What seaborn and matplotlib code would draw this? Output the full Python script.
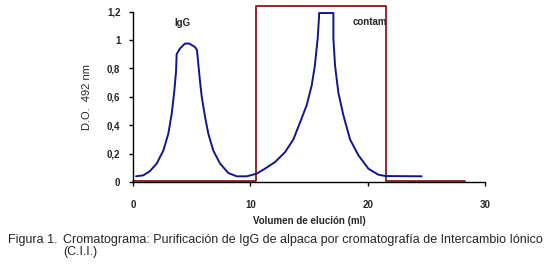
import matplotlib
matplotlib.use("Agg")
import matplotlib.pyplot as plt
import seaborn as sns
import pandas as pd

sns.set_style("white")
plt.rcParams['font.family'] = ['Liberation Sans', 'DejaVu Sans']

# Chromatogram curve (elution volume ml, OD 492 nm)
volume = [0.26, 0.88, 1.45, 2.02, 2.58, 3.01, 3.3, 3.52, 3.67, 3.72, 4.0, 4.43, 4.8, 5.29,
          5.45, 5.57, 5.71, 5.86, 6.14, 6.42, 6.85, 7.42, 8.13, 8.84, 9.7, 10.55,
          11.25, 12.1, 12.96, 13.67, 14.24, 14.8, 15.23, 15.5, 15.74, 15.86, 15.86,
          17.08, 17.08, 17.08, 17.22, 17.5, 17.93, 18.5, 19.2, 20.06, 20.9, 21.5, 24.6]
od = [0.04, 0.047, 0.077, 0.13, 0.22, 0.34, 0.48, 0.64, 0.78, 0.90, 0.94, 0.975, 0.975, 0.95,
      0.93, 0.83, 0.71, 0.60, 0.46, 0.34, 0.22, 0.13, 0.063, 0.04, 0.04, 0.059,
      0.094, 0.14, 0.21, 0.30, 0.42, 0.54, 0.68, 0.82, 1.01, 1.17, 1.19,
      1.19, 1.17, 1.01, 0.82, 0.63, 0.47, 0.30, 0.19, 0.094, 0.052, 0.042, 0.04]

# Fraction collection outline (red)
frac_x = [0, 10.5, 10.5, 21.55, 21.55, 28.3]
frac_y = [0.008, 0.008, 1.24, 1.24, 0.008, 0.008]

xticks = [0, 10, 20, 30]
yticks = [0, 0.2, 0.4, 0.6, 0.8, 1.0, 1.2]
ytick_labels = ["0", "0,2", "0,4", "0,6", "0,8", "1", "1,2"]

fig = plt.figure(figsize=(5.5, 2.64), dpi=100)
ax = fig.add_axes([0.2418, 0.3106, 0.64, 0.6454])

curve = pd.DataFrame({"vol": volume, "od": od})
frac = pd.DataFrame({"vol": frac_x, "od": frac_y})

sns.lineplot(data=frac, x="vol", y="od", sort=False, color="#8b1a1a", lw=1.3, ax=ax, estimator=None)
sns.lineplot(data=curve, x="vol", y="od", sort=False, color="#14148c", lw=1.4, ax=ax, estimator=None)
for ln in ax.lines:
    ln.set_clip_on(False)
    ln.set_solid_joinstyle("round")

ax.set_xlim(0, 30)
ax.set_ylim(0, 1.2)
ax.set_xticks(xticks)
ax.set_xticklabels([str(t) for t in xticks], fontsize=7, fontweight="bold")
ax.set_yticks(yticks)
ax.set_yticklabels(ytick_labels, fontsize=7, fontweight="bold")
ax.tick_params(axis="both", direction="out", length=3, width=1, color="black",
               bottom=True, left=True)
ax.tick_params(axis="x", pad=10)
ax.tick_params(axis="y", pad=6)
for s in ["top", "right"]:
    ax.spines[s].set_visible(False)
for s in ["left", "bottom"]:
    ax.spines[s].set_color("black")
    ax.spines[s].set_linewidth(1)

ax.set_xlabel("Volumen de elución (ml)", fontsize=7, fontweight="bold", labelpad=4)
ax.set_ylabel("D.O.  492 nm", fontsize=8, labelpad=11)

ax.text(4.2, 1.12, "IgG", fontsize=7, fontweight="bold", ha="center", va="center")
ax.text(18.7, 1.125, "contam", fontsize=7, fontweight="bold", ha="left", va="center")

fig.text(8 / 550, 1 - 239.5 / 264, "Figura 1.", fontsize=9, va="center", ha="left")
fig.text(63 / 550, 1 - 239.5 / 264,
         "Cromatograma: Purificación de IgG de alpaca por cromatografía de Intercambio Iónico",
         fontsize=9, va="center", ha="left")
fig.text(63 / 550, 1 - 252.5 / 264, "(C.I.I.)", fontsize=9, va="center", ha="left")

fig.savefig("out.png", dpi=100)
